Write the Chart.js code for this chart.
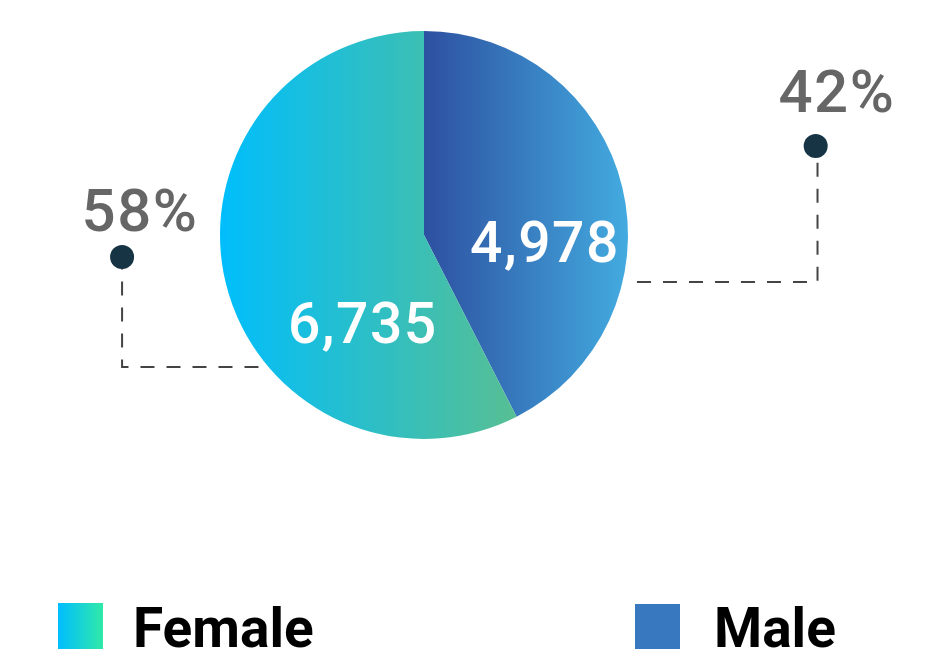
<!DOCTYPE html>
<html><head><meta charset="utf-8">
<script src="https://cdn.jsdelivr.net/npm/chart.js@4/dist/chart.umd.min.js"></script>
<style>html,body{margin:0;padding:0;background:#fff}#wrap{width:948px;height:664px;position:relative}canvas{display:block}</style>
</head><body><div id="wrap"><canvas id="c" width="948" height="664"></canvas></div>
<script>
const categories = ['Male', 'Female'];
const values = [4978, 6735];
const valueLabels = ['4,978', '6,735'];
const percentLabels = ['42%', '58%'];
const legendLabels = ['Female', 'Male'];

const FONT = 'Roboto, "DejaVu Sans", sans-serif';

function sliceGradient(ctx, index) {
  const chart = ctx.chart;
  const a = chart.chartArea;
  if (!a) return '#3878be';
  const cx = (a.left + a.right) / 2, r = (a.right - a.left) / 2;
  const c = chart.ctx;
  let g;
  if (index === 0) {
    g = c.createLinearGradient(cx, 0, cx + r, 0);
    g.addColorStop(0, '#2d50a0');
    g.addColorStop(1, '#43abe0');
  } else {
    g = c.createLinearGradient(cx - r, 0, cx + 0.47 * r, 0);
    g.addColorStop(0, '#00befc');
    g.addColorStop(1, '#58bf92');
  }
  return g;
}

const overlay = {
  id: 'overlay',
  afterDatasetsDraw(chart) {
    const c = chart.ctx;
    const meta = chart.getDatasetMeta(0);
    const arc = meta.data[0];
    const cx = arc.x, cy = arc.y, r = arc.outerRadius;
    c.save();
    c.letterSpacing = '1.5px';
    // value labels
    c.fillStyle = '#ffffff';
    c.font = '500 57px ' + FONT;
    c.textAlign = 'center';
    c.textBaseline = 'alphabetic';
    const vOff = [[0.593, 0.13], [-0.30, 0.53]];
    valueLabels.forEach((t, i) => {
      c.fillText(t, cx + vOff[i][0] * r, cy + vOff[i][1] * r);
    });
    // callout dashed lines
    c.strokeStyle = '#444444';
    c.lineWidth = 2;
    c.setLineDash([14, 12]);
    // right (Male)
    c.beginPath();
    c.moveTo(cx + 1.044 * r, cy + 0.231 * r);
    c.lineTo(cx + 1.929 * r, cy + 0.231 * r);
    c.lineTo(cx + 1.929 * r, cy - 0.51 * r);
    c.stroke();
    // left (Female)
    c.beginPath();
    c.moveTo(cx - 1.48 * r, cy + 0.10 * r);
    c.lineTo(cx - 1.48 * r, cy + 0.647 * r);
    c.lineTo(cx - 0.794 * r, cy + 0.647 * r);
    c.stroke();
    c.setLineDash([]);
    // dots
    c.fillStyle = '#163444';
    [[1.92, -0.436], [-1.48, 0.108]].forEach(p => {
      c.beginPath();
      c.arc(cx + p[0] * r, cy + p[1] * r, 12, 0, Math.PI * 2);
      c.fill();
    });
    // percent labels
    c.fillStyle = '#666666';
    c.font = '500 60px ' + FONT;
    c.textAlign = 'center';
    c.fillText(percentLabels[0], cx + 2.024 * r, cy - 0.603 * r);
    c.fillText(percentLabels[1], cx - 1.392 * r, cy - 0.02 * r);
    // legend
    c.letterSpacing = '0px';
    const lg = c.createLinearGradient(58, 0, 103, 0);
    lg.addColorStop(0, '#00bdff');
    lg.addColorStop(1, '#30eaa8');
    c.fillStyle = lg;
    c.fillRect(58, 603, 45, 46);
    c.fillStyle = '#3878be';
    c.fillRect(635, 604, 45, 45);
    c.fillStyle = '#000000';
    c.font = '700 55px ' + FONT;
    c.textAlign = 'left';
    c.fillText(legendLabels[0], 133, 647);
    c.fillText(legendLabels[1], 714, 647);
    c.restore();
  }
};

new Chart(document.getElementById('c'), {
  type: 'pie',
  data: {
    labels: categories,
    datasets: [{
      data: values,
      backgroundColor: (ctx) => sliceGradient(ctx, ctx.dataIndex),
      borderWidth: 0
    }]
  },
  options: {
    responsive: false,
    devicePixelRatio: 1,
    animation: false,
    layout: { padding: { left: 220, right: 320, top: 31, bottom: 225 } },
    plugins: { legend: { display: false }, tooltip: { enabled: false } }
  },
  plugins: [overlay]
});
</script>
</body></html>
